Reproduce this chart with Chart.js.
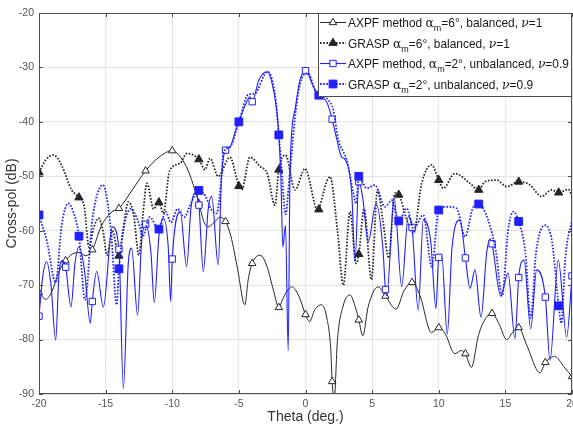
<!DOCTYPE html>
<html>
<head>
<meta charset="utf-8">
<title>Cross-pol vs Theta</title>
<style>
  html, body { margin: 0; padding: 0; background: #fff; }
  #wrap { width: 573px; height: 427px; }
</style>
<script src="https://cdn.jsdelivr.net/npm/chart.js"></script>
</head>
<body>
<div id="wrap"><canvas id="xpol" width="573" height="427"></canvas></div>
<script>
// axis ticks
const xTicks = [-20, -15, -10, -5, 0, 5, 10, 15, 20];
const yTicks = [-20, -30, -40, -50, -60, -70, -80, -90];

// AXPF method, am=6 deg, balanced, nu=1 (black solid, open triangles)
const axpf6Theta = [-20, -19.5, -19, -18.5, -18, -17.5, -17, -16.5, -16, -15.3, -14.5, -14, -13, -12, -11, -10,
  -9.4, -8.8, -8.3, -8, -7.6, -7.3, -6.9, -6.4, -6, -5.6, -5.1, -4.55, -4.3, -4, -3.4, -2.9, -2.4, -2,
  -1.7, -1.04, -0.5, 0, 0.3, 0.7, 1.2, 1.6, 1.9, 2, 2.15, 2.4, 2.8, 3.33, 3.8, 4, 4.3, 4.7, 5.45, 6,
  6.8, 7.4, 8, 8.6, 9.45, 10, 10.5, 11.2, 11.7, 12, 12.45, 13, 14, 14.5, 15.1, 15.6, 16, 16.6, 17.6,
  18, 18.7, 19.4, 20];
const axpf6Db = [-71.4, -72.6, -71, -67.5, -65.5, -64.3, -64, -64.6, -63.5, -59, -56.5, -55.9, -52.5, -49, -46.5, -45.3,
  -46.4, -49, -52.5, -55, -58.5, -59.3, -58.6, -57.5, -58.3, -61, -67, -73.6, -69, -66, -64.5, -66.5, -71, -74.1,
  -72.5, -70.3, -72, -75.4, -76.7, -74.5, -73.6, -76, -82, -87.7, -91, -80, -74, -71.8, -74.5, -76.4, -79.3, -74, -70.3, -72,
  -74.4, -71, -69.5, -72, -78.7, -77.8, -79, -82.6, -82, -82.6, -85.1, -79, -75.2, -77, -80, -78.5, -77.8, -81, -86.1,
  -84.2, -83.1, -85, -86.8];
const axpf6Marks = [-20, -18, -16, -14, -12, -10, -8, -6, -4, -2, 0, 2, 4, 6, 8, 10, 12, 14, 16, 18, 20];

// GRASP, am=6 deg, balanced, nu=1 (black dotted, filled triangles)
const grasp6Theta = [-20, -19.5, -18.9, -18.3, -17.55, -17, -16.6, -16.25, -15.9, -15.55, -15.2, -14.9, -14.5, -14,
  -13.7, -13.3, -12.9, -12.5, -12.2, -11.9, -11.4, -11, -10.67, -10.2, -9.4, -8.9, -8, -7.54, -7.17, -6.55, -5.67,
  -5, -4.79, -4.17, -3.4, -2.87, -2.29, -2, -1.5, -0.79, -0.04, 0.95, 1, 1.84, 2.4, 2.84, 3.34, 3.8, 4, 4.4,
  4.95, 5.4, 5.8, 6.25, 6.7, 7, 7.6, 8.1, 8.72, 9.47, 10, 10.34, 11.2, 12.35, 13, 13.47, 14.35, 15.1, 16, 16.8,
  17.72, 18.47, 19, 19.72, 20];
const grasp6Db = [-49.3, -47, -46.1, -48, -52.5, -53.9, -55.6, -63, -59.5, -57.7, -60, -64.5, -60, -64.6,
  -60, -54.7, -57, -64.5, -57, -51.3, -56, -54.8, -56.8, -49, -47.6, -45.8, -46.9, -48.8, -46.7, -50, -46.5,
  -51.8, -52.5, -46.5, -48.2, -49.5, -55.3, -48.8, -46.1, -52.5, -48.6, -56.5, -56.1, -50.1, -60, -70, -56.5, -66, -64.3, -56,
  -69, -52.5, -58, -65, -53.1, -53.4, -58, -60.5, -51.3, -47.9, -50.7, -52.2, -49.5, -51.3, -52.5, -51, -50.7, -51.9, -51, -51.5,
  -53.7, -52.5, -53, -52.4, -53.5];
const grasp6Marks = [-20, -17, -14, -11, -8, -5, -2, 1, 4, 7, 10, 13, 16, 19];

// AXPF method, am=2 deg, unbalanced, nu=0.9 (blue solid, open squares)
const axpf2Theta = [-20, -19.7, -19.42, -19.1, -18.75, -18.5, -18.25, -18, -17.6, -17.3, -17, -16.6, -16.15, -16,
  -15.67, -15.17, -14.5, -14, -13.67, -13.3, -13.05, -12.6, -12.3, -12, -11.6, -11.35, -11, -10.67, -10.3, -10.12,
  -10, -9.4, -8.92, -8.6, -8.3, -8, -7.67, -7.3, -7.04, -6.55, -6.3, -6, -5.67, -5.3, -5, -4.5, -4.17, -4, -3.5,
  -2.87, -2.5, -2.16, -2, -1.85, -1.7, -1.5, -1.3, -1.16, -0.79, -0.41, 0, 0.59, 1.03, 1.58, 2, 2.33, 2.7, 3,
  3.47, 3.72, 4, 4.3, 4.7, 5.3, 5.8, 6, 6.1, 6.65, 7.22, 7.71, 8, 8.46, 8.84, 9.4, 9.79, 10, 10.22, 10.64, 11,
  11.6, 12, 12.35, 12.72, 13.17, 13.6, 13.85, 14, 14.65, 15.2, 15.72, 16, 16.4, 16.9, 17.35, 18, 18.35, 18.97,
  19.6, 20];
const axpf2Db = [-75.7, -68, -65.7, -70, -80.1, -68, -65.5, -66.7, -74, -66, -63, -67, -77, -73,
  -67.5, -74, -59.3, -63.4, -89, -66, -63.2, -75.5, -62, -58.8, -64, -73.2, -61, -57.7, -63, -73,
  -65.2, -56.5, -66.6, -56, -53.1, -55.3, -67.5, -56, -53.7, -66.3, -50, -45.2, -44.7, -42, -40, -36.8, -35.4, -36.3, -32.3,
  -30.8, -33, -37.8, -42.4, -50, -63, -59, -82, -48.8, -37.8, -32.3, -30.6, -33.5, -35.4, -36.3, -39.5, -43, -46.4, -47,
  -53.1, -65.7, -51, -54, -62, -55, -63, -70.8, -72, -54, -70.3, -57.4, -59.4, -74.6, -58, -62, -74.3, -64.9, -64.5, -79, -63,
  -58, -65, -70.6, -67.2, -75.9, -64, -61.5, -62.4, -72, -67.8, -79.8, -68.6, -65.4, -78, -67.2, -72.2, -83.8, -65.4,
  -79.5, -68.3];
const axpf2Marks = [-20, -18, -16, -14, -12, -10, -8, -6, -4, -2, 0, 2, 4, 6, 8, 10, 12, 14, 16, 18, 20];

// GRASP, am=2 deg, unbalanced, nu=0.9 (blue dotted, filled squares)
const grasp2Theta = [-20, -19.4, -18.75, -18.3, -17.8, -17.3, -17, -16.55, -16, -15.2, -14.6, -14.17, -14, -13.6,
  -13.1, -12.6, -12.2, -11.7, -11, -10.5, -10.1, -9.6, -9.1, -8.6, -8, -7.5, -7.1, -6.67, -6.3, -6.17, -5.67, -5,
  -4.3, -3.8, -2.87, -2.3, -2, -1.79, -1.5, -1.2, -0.66, -0.16, 0.2, 0.7, 1, 1.71, 2.09, 2.46, 2.84, 3.09, 3.59,
  3.8, 4, 4.6, 5.2, 5.97, 6.47, 7, 7.6, 8.1, 8.84, 9.47, 10, 10.6, 11.34, 11.97, 12.6, 13, 13.7, 14.3, 14.75,
  15.2, 15.6, 16, 16.5, 16.9, 17.3, 18, 18.5, 19, 19.2, 19.5, 20];
const grasp2Db = [-57.1, -62, -69.5, -59, -55, -57.5, -61, -72.7, -58, -51.6, -60, -73.6, -67, -59,
  -56, -58, -61, -57.5, -59.7, -56.5, -58.5, -56, -57.5, -55, -52.6, -53.7, -56, -56.8, -50, -45.8, -44.6, -40,
  -35, -34.8, -30.8, -34.8, -42.4, -48.8, -57, -50, -36.6, -31.4, -31.1, -34.1, -35.1, -36, -37.8, -43.3, -45.5, -47, -53.1,
  -55, -50, -52.2, -51.6, -55.6, -54.4, -58.2, -55.9, -59.6, -57.1, -66.6, -56.2, -55.6, -55.9, -61.1, -55.6, -55.1, -58, -64, -72,
  -60, -56.5, -58.3, -64, -76, -64, -59, -62, -73.8, -77, -65, -58];
const grasp2Marks = [-20, -17, -14, -11, -8, -5, -2, 1, 4, 7, 10, 13, 16, 19];

const pairs = (xs, ys) => xs.map((x, i) => ({x: x, y: ys[i]}));
const markAt = (marks, r) => ctx => (ctx.raw && marks.includes(ctx.raw.x)) ? r : 0;

const BLUE = '#1f1fff';
const BLACK = '#262626';
const FONT = '"Liberation Sans", Arial, sans-serif';

function seriesStyle(color, width, dash, style, fill, marks, r, order) {
  return {
    borderColor: color, borderWidth: width, borderDash: dash,
    pointStyle: style, pointBackgroundColor: fill, pointBorderColor: color,
    pointBorderWidth: 1, pointRadius: markAt(marks, r), pointHoverRadius: 0, markerSize: r,
    tension: 0.4, cubicInterpolationMode: 'monotone', fill: false, order: order
  };
}

const datasets = [
  Object.assign({label: 'AXPF 6', data: pairs(axpf6Theta, axpf6Db)},
    seriesStyle(BLACK, 1, [], 'triangle', '#fff', axpf6Marks, 4.3, 3)),
  Object.assign({label: 'GRASP 6', data: pairs(grasp6Theta, grasp6Db)},
    seriesStyle(BLACK, 1.8, [1.6, 1.6], 'triangle', BLACK, grasp6Marks, 4.8, 2)),
  Object.assign({label: 'AXPF 2', data: pairs(axpf2Theta, axpf2Db)},
    seriesStyle(BLUE, 1.1, [], 'rect', '#fff', axpf2Marks, 4.5, 1)),
  Object.assign({label: 'GRASP 2', data: pairs(grasp2Theta, grasp2Db)},
    seriesStyle(BLUE, 1.8, [1.6, 1.6], 'rect', BLUE, grasp2Marks, 5.5, 0))
];

const legendRows = [
  {pre: 'AXPF method ', mid: '=6°, balanced, ', end: '=1', ds: 0},
  {pre: 'GRASP ', mid: '=6°, balanced, ', end: '=1', ds: 1},
  {pre: 'AXPF method, ', mid: '=2°, unbalanced, ', end: '=0.9', ds: 2},
  {pre: 'GRASP ', mid: '=2°, unbalanced, ', end: '=0.9', ds: 3}
];

// lays out one legend row; draws it when draw is true, returns its width
function legendText(ctx, row, x0, base, k, draw) {
  const parts = [
    [row.pre, (12.6 * k) + 'px ' + FONT, 0],
    ['α', (13 * k) + 'px "DejaVu Serif", serif', 0],
    ['m', (9.5 * k) + 'px ' + FONT, 4],
    [row.mid, (12.6 * k) + 'px ' + FONT, 0],
    ['ν', 'italic ' + (13 * k) + 'px "DejaVu Serif", serif', 0],
    [row.end, (12.6 * k) + 'px ' + FONT, 0]
  ];
  let x = x0;
  parts.forEach(([t, f, dy]) => {
    ctx.font = f;
    if (draw) ctx.fillText(t, x, base + dy);
    x += ctx.measureText(t).width;
  });
  return x - x0;
}

// box, inner ticks, x tick labels and the in-plot legend
const framePlugin = {
  id: 'frame',
  afterDraw(chart) {
    const {ctx, chartArea: a, scales} = chart;
    ctx.save();
    ctx.strokeStyle = '#4d4d4d';
    ctx.lineWidth = 1;
    ctx.strokeRect(a.left + 0.5, a.top + 0.5, a.right - a.left - 1, a.bottom - a.top - 1);
    ctx.beginPath();
    xTicks.forEach(v => {
      const px = Math.round(scales.x.getPixelForValue(v)) + 0.5;
      ctx.moveTo(px, a.top); ctx.lineTo(px, a.top + 4);
      ctx.moveTo(px, a.bottom); ctx.lineTo(px, a.bottom - 4);
    });
    yTicks.forEach(v => {
      const py = Math.round(scales.y.getPixelForValue(v)) + 0.5;
      ctx.moveTo(a.left, py); ctx.lineTo(a.left + 4, py);
      ctx.moveTo(a.right, py); ctx.lineTo(a.right - 4, py);
    });
    ctx.stroke();

    // x tick labels, centred on their ticks (the last one runs off the canvas)
    ctx.fillStyle = '#555';
    ctx.font = '10.5px ' + FONT;
    ctx.textAlign = 'center';
    ctx.textBaseline = 'top';
    xTicks.forEach(v => ctx.fillText(String(v), scales.x.getPixelForValue(v), a.bottom + 5));

    // legend
    const lx = 318, ly = 13, lw = a.right - lx, lh = 84;
    ctx.fillStyle = '#fff';
    ctx.fillRect(lx, ly, lw, lh);
    ctx.strokeStyle = '#4d4d4d';
    ctx.strokeRect(lx + 0.5, ly + 0.5, lw - 1, lh - 1);
    const rowY = [22.5, 43, 63.5, 84];
    const textX = 348;
    // fit the longest row between textX and the box edge
    const k = (a.right - 3 - textX) / legendText(ctx, legendRows[2], 0, 0, 1, false);
    legendRows.forEach((row, i) => {
      const d = chart.data.datasets[row.ds];
      const y = rowY[i];
      ctx.save();
      ctx.strokeStyle = d.borderColor;
      ctx.lineWidth = d.borderWidth;
      ctx.setLineDash(d.borderDash);
      ctx.beginPath();
      ctx.moveTo(320, y); ctx.lineTo(346, y);
      ctx.stroke();
      ctx.restore();
      ctx.save();
      ctx.fillStyle = d.pointBackgroundColor;
      ctx.strokeStyle = d.pointBorderColor;
      ctx.lineWidth = 1;
      Chart.helpers.drawPoint(ctx, {pointStyle: d.pointStyle, radius: d.markerSize, borderWidth: 1}, 333, y);
      ctx.restore();

      ctx.fillStyle = '#1a1a1a';
      ctx.textBaseline = 'alphabetic';
      ctx.textAlign = 'left';
      legendText(ctx, row, textX, y + 4.5, k, true);
    });
    ctx.restore();
  }
};

new Chart(document.getElementById('xpol'), {
  type: 'line',
  data: {datasets: datasets},
  plugins: [framePlugin],
  options: {
    responsive: false,
    animation: false,
    devicePixelRatio: 1,
    layout: {autoPadding: false, padding: {left: 0, top: 13, right: 1, bottom: 0}},
    plugins: {legend: {display: false}, tooltip: {enabled: false}},
    scales: {
      x: {
        type: 'linear', min: -20, max: 20,
        afterFit: s => { s.height = 33; },
        afterBuildTicks: s => { s.ticks = xTicks.map(v => ({value: v})); },
        border: {display: false},
        grid: {color: '#e4e4e4', drawTicks: false},
        ticks: {display: false},
        title: {display: true, text: 'Theta (deg.)', color: '#333',
          font: {family: FONT, size: 14}, padding: {top: 0, bottom: 1.5}}
      },
      y: {
        type: 'linear', min: -90, max: -20,
        afterFit: s => { s.width = 39; },
        afterBuildTicks: s => { s.ticks = yTicks.map(v => ({value: v})); },
        border: {display: false},
        grid: {color: '#e4e4e4', drawTicks: false},
        ticks: {padding: 5, color: '#555', font: {family: FONT, size: 10.5}},
        title: {display: true, text: 'Cross-pol (dB)', color: '#333',
          font: {family: FONT, size: 14}, padding: {top: 3.5, bottom: 0}}
      }
    }
  }
});
</script>
</body>
</html>
